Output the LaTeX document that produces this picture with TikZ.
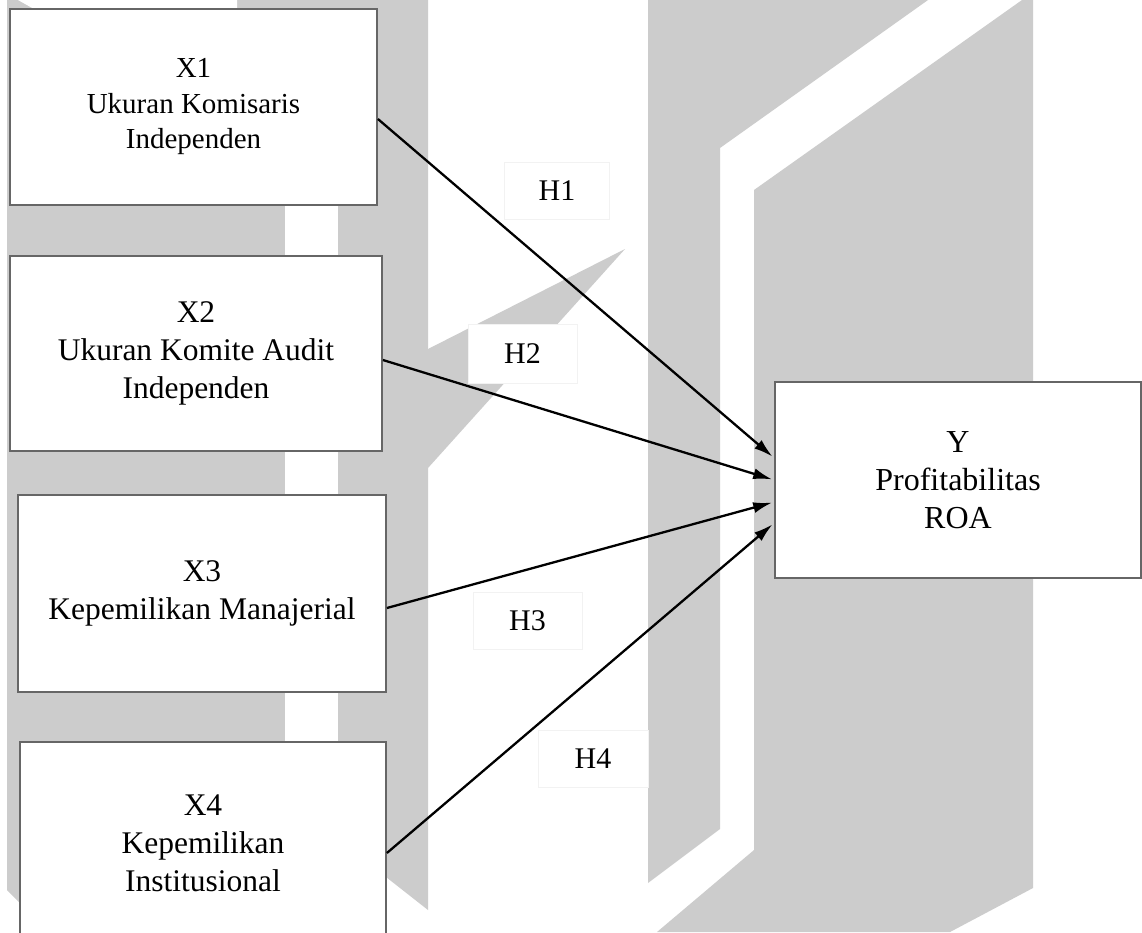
\documentclass[tikz,border=0pt]{standalone}
\usepackage{fontspec}
\setmainfont{Liberation Serif}
\usetikzlibrary{arrows.meta}
\definecolor{wm}{HTML}{CCCCCC}
\definecolor{boxline}{HTML}{666666}
\tikzset{
  varbox/.style={draw=boxline, line width=1.8pt, fill=white, inner sep=0pt, align=center, anchor=center},
  hlabel/.style={draw=black!5, line width=0.6pt, fill=white, inner sep=0pt, anchor=center, font=\fontsize{30}{36}\selectfont},
  arr/.style={line width=2.3pt, -{Latex[length=19pt,width=11pt]}, shorten >=2pt},
  wmark/.style={fill=wm, draw=none}
}
\begin{document}
\begin{tikzpicture}[x=1pt,y=-1pt]
\useasboundingbox (0,0) rectangle (1142,932);
\clip (0,0) rectangle (1142,932);
\fill[white] (0,0) rectangle (1142,932);
% watermark
\fill[wmark] (7,0) -- (428,0) -- (428,910) -- (386,877) -- (250,932) -- (49,932) -- (7,890) -- cycle;
\fill[white] (285,20) rectangle (338,900);
\fill[white] (18,0) -- (237,0) -- (237,9) -- (34,9) -- cycle;
\fill[wmark] (428,349) -- (625,249) -- (428,468) -- cycle;
\fill[wmark] (648,0) -- (928,0) -- (720,148) -- (720,829) -- (648,883) -- cycle;
\fill[wmark] (1022,0) -- (1033,0) -- (1033,888) -- (950,932) -- (657,932) -- (754,850) -- (754,190) -- cycle;
% boxes
\node[varbox, minimum width=367pt, minimum height=196pt, font=\fontsize{29}{35.5}\selectfont] (x1) at (193.5,107) {X1\\Ukuran Komisaris\\Independen};
\node[varbox, minimum width=372pt, minimum height=195pt, font=\fontsize{31.5}{38}\selectfont] (x2) at (196,353.5) {X2\\Ukuran Komite Audit\\Independen};
\node[varbox, minimum width=368pt, minimum height=197pt, font=\fontsize{31.5}{38}\selectfont] (x3) at (202,593.5) {X3\\Kepemilikan Manajerial};
\node[varbox, minimum width=366pt, minimum height=203pt, font=\fontsize{31.5}{38}\selectfont] (x4) at (203,843.5) {X4\\Kepemilikan\\Institusional};
\node[varbox, minimum width=366pt, minimum height=196pt, font=\fontsize{32}{38}\selectfont] (y) at (958,480) {Y\\Profitabilitas\\ROA};
% labels
\node[hlabel, minimum width=105pt, minimum height=57pt] (h1) at (557,191) {H1};
\node[hlabel, minimum width=109pt, minimum height=59pt] (h2) at (522.5,353.5) {H2};
\node[hlabel, minimum width=109pt, minimum height=57pt] (h3) at (527.5,620.5) {H3};
\node[hlabel, minimum width=110pt, minimum height=57pt] (h4) at (593,758.5) {H4};
% connectors
\draw[arr] ([yshift=-12pt]x1.east) -- ([yshift=22pt]y.west);
\draw[arr] ([yshift=-6.5pt]x2.east) -- (y.west);
\draw[arr] ([yshift=-14.5pt]x3.east) -- ([yshift=-22pt]y.west);
\draw[arr] ([yshift=-9.5pt]x4.east) -- ([yshift=-43pt]y.west);
\end{tikzpicture}
\end{document}
